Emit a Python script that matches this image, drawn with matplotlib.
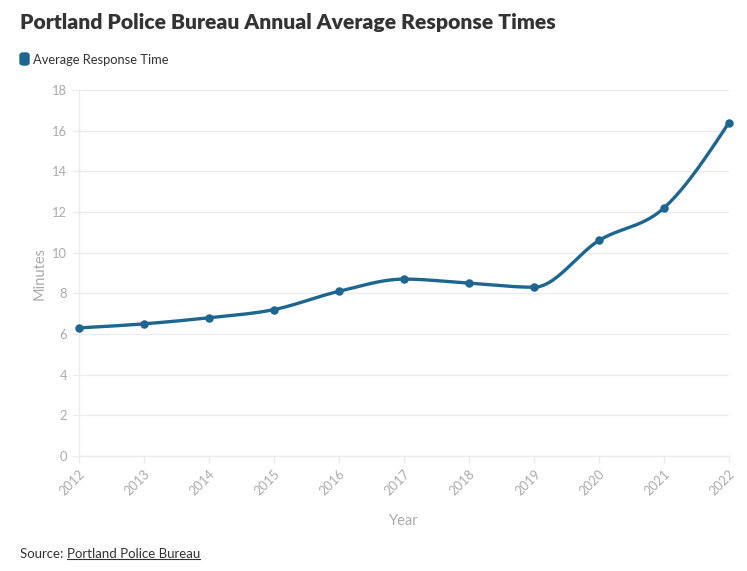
import numpy as np
import matplotlib
matplotlib.use("Agg")
import matplotlib.pyplot as plt
from matplotlib.patches import FancyBboxPatch
from matplotlib.lines import Line2D

years = [2012, 2013, 2014, 2015, 2016, 2017, 2018, 2019, 2020, 2021, 2022]
minutes = [6.3, 6.5, 6.8, 7.2, 8.1, 8.7, 8.5, 8.3, 10.6, 12.2, 16.4]
yticks = [0, 2, 4, 6, 8, 10, 12, 14, 16, 18]

LINE = "#1d6690"
GRID = "#ebebeb"
TICKC = "#aaaaaa"
FONT = "Lato"


def monotone_x(x, y, n=40):
    x = np.asarray(x, float)
    y = np.asarray(y, float)
    h = np.diff(x)
    s = np.diff(y) / h
    m = np.zeros_like(y)
    for i in range(1, len(x) - 1):
        s0, s1 = s[i - 1], s[i]
        h0, h1 = h[i - 1], h[i]
        p = (s0 * h1 + s1 * h0) / (h0 + h1)
        m[i] = (np.sign(s0) + np.sign(s1)) * min(abs(s0), abs(s1), 0.5 * abs(p))
    m[0] = (3 * s[0] - m[1]) / 2 if len(x) > 2 else s[0]
    m[-1] = (3 * s[-1] - m[-2]) / 2 if len(x) > 2 else s[-1]
    xs, ys = [], []
    for i in range(len(x) - 1):
        t = np.linspace(0, 1, n)
        dx = h[i]
        h00 = 2 * t**3 - 3 * t**2 + 1
        h10 = t**3 - 2 * t**2 + t
        h01 = -2 * t**3 + 3 * t**2
        h11 = t**3 - t**2
        xs.append(x[i] + t * dx)
        ys.append(h00 * y[i] + h10 * dx * m[i] + h01 * y[i + 1] + h11 * dx * m[i + 1])
    return np.concatenate(xs), np.concatenate(ys)


fig = plt.figure(figsize=(7.47, 5.71), dpi=100)
ax = fig.add_axes([79 / 747, 1 - 456 / 571, 650 / 747, 366 / 571])

xs, ys = monotone_x(years, minutes)
ax.plot(xs, ys, color=LINE, lw=2.4, solid_capstyle="round", zorder=3, clip_on=False)
ax.scatter(years, minutes, s=26, color=LINE, zorder=4, clip_on=False)

ax.set_xlim(2012, 2022)
ax.set_ylim(0, 18)
ax.set_yticks(yticks)
ax.set_yticklabels([str(v) for v in yticks])
ax.set_xticks(years)
ax.set_xticklabels([str(v) for v in years], rotation=45, ha="right", va="top",
                   rotation_mode="anchor")
ax.grid(axis="y", color=GRID, lw=1)
ax.set_axisbelow(True)
for sp in ["top", "right"]:
    ax.spines[sp].set_visible(False)
for sp in ["left", "bottom"]:
    ax.spines[sp].set_color(GRID)
    ax.spines[sp].set_linewidth(1)
ax.tick_params(axis="both", colors=GRID, length=5, width=1, labelcolor=TICKC,
               labelsize=9.3)
for lab in ax.get_xticklabels() + ax.get_yticklabels():
    lab.set_fontfamily(FONT)
ax.set_ylabel("Minutes", color=TICKC, fontsize=10.5, fontfamily=FONT, labelpad=4)
ax.set_xlabel("Year", color=TICKC, fontsize=10.5, fontfamily=FONT, labelpad=12)

fig.text(20 / 747, 1 - 22 / 571, "Portland Police Bureau Annual Average Response Times",
         fontsize=15.2, fontweight="heavy", color="#333333", fontfamily=FONT,
         va="center", ha="left")

leg = FancyBboxPatch((20 / 747, 1 - 65 / 571), 9 / 747, 12 / 571,
                     boxstyle="round,pad=0,rounding_size=0.004",
                     transform=fig.transFigure, color=LINE)
fig.patches.append(leg)
fig.text(33 / 747, 1 - 59.5 / 571, "Average Response Time", fontsize=9.3,
         color="#333333", fontfamily=FONT, va="center", ha="left")

t1 = fig.text(20 / 747, 1 - 554 / 571, "Source: ", fontsize=9.5, color="#333333",
              fontfamily=FONT, va="center", ha="left")
fig.canvas.draw()
r = fig.canvas.get_renderer()
bb = t1.get_window_extent(r)
x2 = bb.x1 / fig.bbox.width
t2 = fig.text(x2, 1 - 554 / 571, "Portland Police Bureau", fontsize=9.5,
              color="#333333", fontfamily=FONT, va="center", ha="left")
bb2 = t2.get_window_extent(r)
yline = (bb2.y0 + 1) / fig.bbox.height
fig.lines.append(Line2D([bb2.x0 / fig.bbox.width, bb2.x1 / fig.bbox.width],
                        [yline, yline], transform=fig.transFigure,
                        color="#333333", lw=0.8))

fig.savefig("out.png", dpi=100, facecolor="white")
